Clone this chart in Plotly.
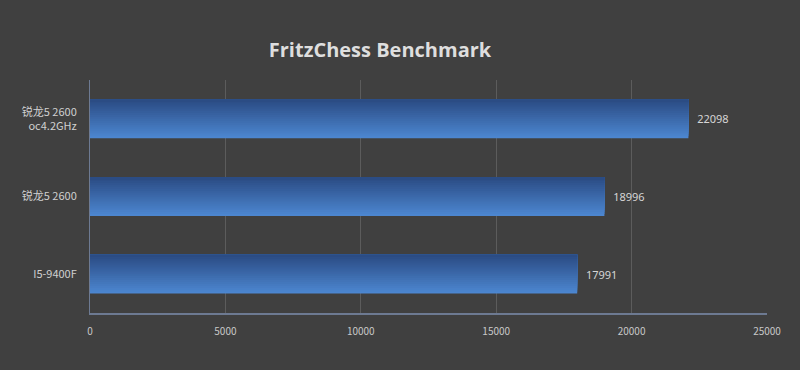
import plotly.graph_objects as go

categories = ["I5-9400F", "锐龙5 2600", "锐龙5 2600<br>oc4.2GHz"]
scores = [17991, 18996, 22098]
x_ticks = [0, 5000, 10000, 15000, 20000, 25000]

bg = "#404040"
n_strips = 20
bar_w = 0.5
top_rgb = (43, 76, 132)
bot_rgb = (76, 134, 208)

fig = go.Figure()
sw = bar_w / n_strips
for i in range(n_strips):
    t = i / (n_strips - 1)
    r = round(bot_rgb[0] + (top_rgb[0] - bot_rgb[0]) * t)
    g = round(bot_rgb[1] + (top_rgb[1] - bot_rgb[1]) * t)
    b = round(bot_rgb[2] + (top_rgb[2] - bot_rgb[2]) * t)
    fig.add_trace(go.Bar(
        y=categories, x=scores, orientation="h",
        width=bar_w - i * sw, offset=-bar_w / 2 + i * sw,
        marker=dict(color=f"rgb({r},{g},{b})", line=dict(width=0)),
        hoverinfo="skip", showlegend=False,
    ))

fig.add_trace(go.Bar(
    y=categories, x=scores, orientation="h",
    width=bar_w, offset=-bar_w / 2,
    marker=dict(color="rgba(0,0,0,0)", line=dict(width=0)),
    text=["  " + str(v) for v in scores], textposition="outside",
    textfont=dict(color="#d6d6d6", size=11, family="Noto Sans"),
    cliponaxis=False, showlegend=False,
))

fig.update_layout(
    width=800, height=370,
    paper_bgcolor=bg, plot_bgcolor=bg,
    barmode="overlay",
    margin=dict(l=90, r=33, t=80, b=57),
    title=dict(text="<b>FritzChess Benchmark</b>", x=0.475, xanchor="center",
               y=0.865, yanchor="middle",
               font=dict(size=20, color="#dedede", family="Open Sans")),
    font=dict(family="Noto Sans CJK SC, Noto Sans", color="#d0d0d0"),
    xaxis=dict(range=[0, 25000], tickvals=x_ticks, ticktext=[str(v) for v in x_ticks],
               showgrid=True, gridcolor="#5c5c5c", gridwidth=1, zeroline=False,
               showline=True, linecolor="#6d7a92", linewidth=2,
               tickfont=dict(size=10, color="#c8c8c8"), ticks="",
               ticklabelstandoff=8, fixedrange=True),
    yaxis=dict(categoryorder="array", categoryarray=categories,
               showgrid=False, zeroline=False, showline=True,
               linecolor="#6d7a92", linewidth=1, ticks="",
               tickfont=dict(size=11, color="#d0d0d0"), ticklabelstandoff=10,
               range=[-0.5, 2.5]),
)

fig.write_html("out.html")
